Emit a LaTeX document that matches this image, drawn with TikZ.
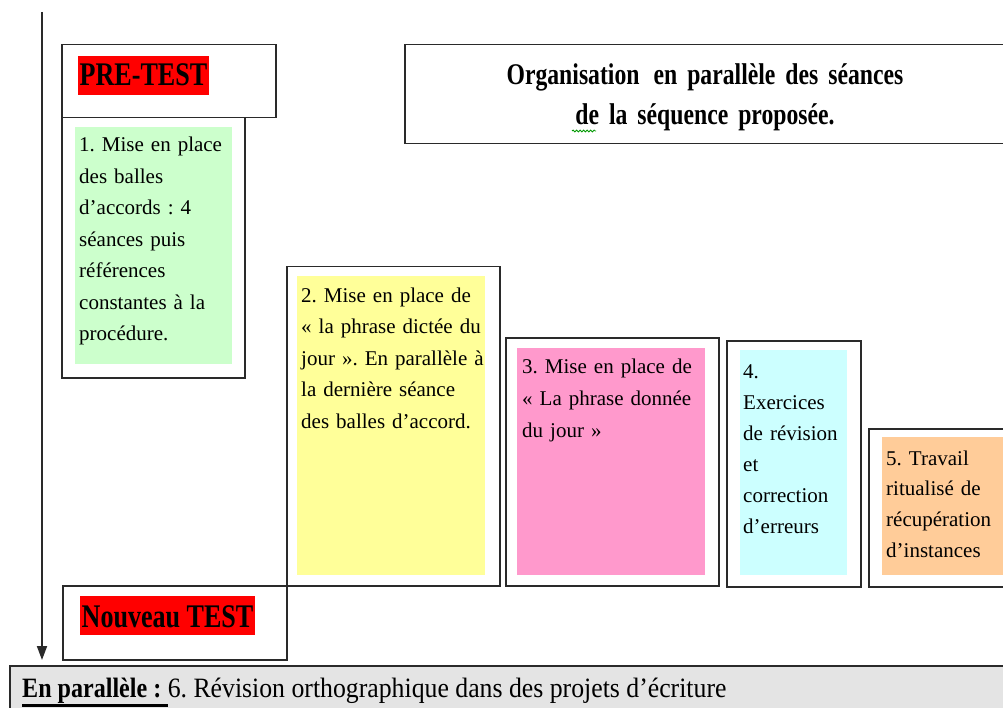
\documentclass[tikz,border=0pt]{standalone}
\usepackage{fontspec}
\setmainfont{Liberation Serif}
\newfontfamily\condfont{Liberation Serif}[FakeStretch=0.79]
\newfontfamily\botbold{Liberation Serif}[FakeStretch=0.86]
\newfontfamily\botreg{Liberation Serif}[FakeStretch=0.92]
\usetikzlibrary{arrows.meta,decorations.pathmorphing}
\definecolor{cgreen}{HTML}{CCFFCC}
\definecolor{cyellow}{HTML}{FFFF99}
\definecolor{cpink}{HTML}{FF99CC}
\definecolor{ccyan}{HTML}{CCFFFF}
\definecolor{corange}{HTML}{FFCC99}
\definecolor{cgray}{HTML}{E4E4E4}
\definecolor{cline}{HTML}{2A2A2A}
\frenchspacing
\tikzset{
  frame/.style={draw=cline, line width=1.5pt, inner sep=0pt, anchor=north west, fill=white},
  swatch/.style={inner sep=0pt, anchor=north west, draw=none},
  body/.style={anchor=base west, inner sep=0pt, align=left, text width=200pt,
    font=\frenchspacing\fontsize{21}{31.5}\selectfont},
  hl/.style={fill=red, anchor=base west, inner ysep=0pt, inner xsep=1.5pt,
    font=\condfont\bfseries\fontsize{33}{36}\selectfont}
}
\begin{document}
\frenchspacing
\begin{tikzpicture}[x=1pt,y=-1pt]
\useasboundingbox (0,0) rectangle (1003,708);
\clip (0,0) rectangle (1003,708);
% frames
\node[frame, fill=cgray, minimum width=1011pt, minimum height=55pt] (bottom) at (9,665) {};
\node[frame, minimum width=616pt, minimum height=99pt] (title) at (404,44) {};
\node[frame, minimum width=214pt, minimum height=73pt] (pretest) at (61,44) {};
\node[frame, minimum width=183pt, minimum height=260pt] (b1) at (61,117) {};
\node[frame, minimum width=213pt, minimum height=319pt] (b2) at (286,266) {};
\node[frame, minimum width=213pt, minimum height=248pt] (b3) at (505,337) {};
\node[frame, minimum width=134pt, minimum height=246pt] (b4) at (726,340) {};
\node[frame, minimum width=152pt, minimum height=158pt] (b5) at (868,428) {};
\node[frame, minimum width=224pt, minimum height=74pt] (newtest) at (62,585) {};
% coloured panels
\node[swatch, fill=cgreen, minimum width=157pt, minimum height=237pt] (g1) at (75,127) {};
\node[swatch, fill=cyellow, minimum width=188pt, minimum height=299pt] (y2) at (297,276) {};
\node[swatch, fill=cpink, minimum width=188pt, minimum height=227pt] (p3) at (517,348) {};
\node[swatch, fill=ccyan, minimum width=107pt, minimum height=225pt] (c4) at (740,350) {};
\node[swatch, fill=corange, minimum width=138pt, minimum height=138pt] (o5) at (882,437) {};
% texts
\node[body] (t1) at (79,152) {1. Mise en place\\des balles\\d’accords : 4\\séances puis\\références\\constantes à la\\procédure.};
\node[body] (t2) at (301,302) {2. Mise en place de\\« la phrase dictée du\\jour ». En parallèle à\\la dernière séance\\des balles d’accord.};
\node[body, font=\frenchspacing\fontsize{21}{32}\selectfont] (t3) at (522,373) {3. Mise en place de\\« La phrase donnée\\du jour »};
\node[body, font=\frenchspacing\fontsize{21}{31}\selectfont] (t4) at (743,378) {4.\\Exercices\\de révision\\et\\correction\\d’erreurs};
\node[body, font=\frenchspacing\fontsize{21}{30.7}\selectfont] (t5) at (886,465) {5. Travail\\ritualisé de\\récupération\\d’instances};
\node[hl, text height=30pt, text depth=9pt] (pt) at (78,86) {PRE-TEST};
\node[hl, text height=31pt, text depth=8pt] (nt) at (80,627) {Nouveau TEST};
\node[anchor=base, inner sep=0pt, align=center, text width=560pt,
  font=\condfont\bfseries\fontsize{30}{40}\selectfont] (tt) at (705,85)
  {Organisation\hspace{4pt} en parallèle des séances\\de la séquence proposée.};
\draw[green!60!black, line width=0.8pt, decorate,
  decoration={snake, amplitude=1pt, segment length=3.5pt}] (572,131) -- (596,131);
\node[anchor=base west, inner sep=0pt] (tb) at (22,697)
  {{\botbold\bfseries\fontsize{28}{32}\selectfont En parallèle :}{\botreg\fontsize{28}{32}\selectfont\ 6. Révision orthographique dans des projets d’écriture}};
\draw[line width=3pt] (22,705.5) -- (168,705.5);
% time arrow
\coordinate (atop) at (42,12);
\coordinate (atip) at (42,660);
\draw[cline, line width=1.8pt, -{Triangle[width=10pt,length=14pt]}] (atop) -- (atip);
\end{tikzpicture}
\end{document}
